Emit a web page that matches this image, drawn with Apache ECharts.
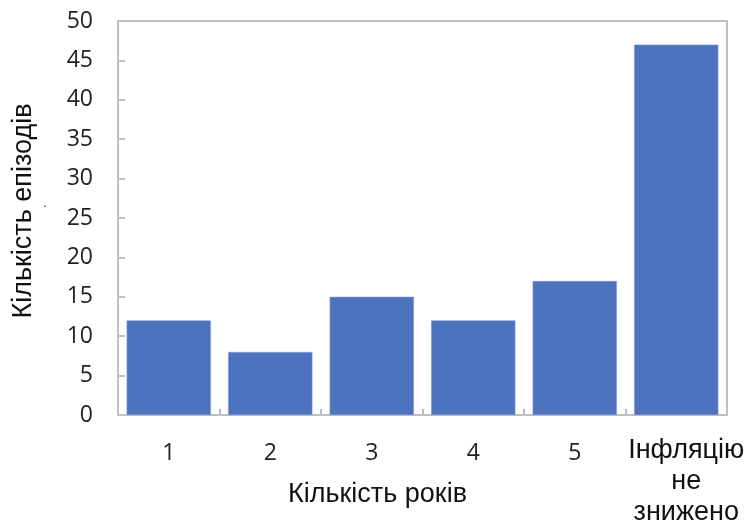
<!DOCTYPE html>
<html>
<head>
<meta charset="utf-8">
<script src="https://cdn.jsdelivr.net/npm/echarts@6/dist/echarts.min.js"></script>
<style>
  html, body { margin: 0; padding: 0; background: #fff; }
  #chart { width: 749px; height: 522px; }
</style>
</head>
<body>
<div id="chart"></div>
<script>
// Categories: number of years needed to bring inflation down
const categories = ['1', '2', '3', '4', '5', 'Інфляцію\nне\nзнижено'];
// Number of episodes per category
const episodes = [12, 8, 15, 12, 17, 47];
// Y axis range
const yMin = 0, yMax = 50, yStep = 5;

const xTitle = 'Кількість років';
const yTitle = 'Кількість епізодів';

const axisGray = '#bfbfbf';
const barBlue = '#4d72be';
const sansFont = 'Liberation Sans, Arial, sans-serif';

const chart = echarts.init(document.getElementById('chart'));

const catData = categories.map((c, i) => {
  if (i === categories.length - 1) {
    return {
      value: c,
      textStyle: {
        fontFamily: sansFont,
        fontSize: 27,
        lineHeight: 31,
        color: '#111',
        padding: [0, 0, 0, 20]
      }
    };
  }
  return c;
});

chart.setOption({
  animation: false,
  grid: {
    left: 118, right: 22, top: 21, bottom: 107,
    show: true, borderColor: axisGray, borderWidth: 2,
    containLabel: false,
    outerBoundsMode: 'none'
  },
  xAxis: {
    type: 'category',
    data: catData,
    axisLine: { show: true, lineStyle: { color: axisGray, width: 2 } },
    axisTick: { show: true, inside: true, length: 6, alignWithLabel: false,
      lineStyle: { color: axisGray, width: 2 } },
    axisLabel: {
      margin: 20,
      fontFamily: 'Open Sans, sans-serif',
      fontSize: 23,
      lineHeight: 37,
      color: '#222',
      interval: 0
    },
    splitLine: { show: false }
  },
  yAxis: {
    type: 'value',
    min: yMin, max: yMax, interval: yStep,
    axisLine: { show: true, lineStyle: { color: axisGray, width: 2 } },
    axisTick: { show: true, inside: true, length: 7,
      lineStyle: { color: axisGray, width: 2 } },
    axisLabel: {
      margin: 25,
      fontFamily: 'Open Sans, sans-serif',
      fontSize: 23,
      color: '#222'
    },
    splitLine: { show: false }
  },
  series: [{
    type: 'bar',
    data: episodes,
    barCategoryGap: '17%',
    itemStyle: { color: barBlue, borderColor: '#7c98d2', borderWidth: 0.6 }
  }],
  graphic: [
    {
      type: 'text', left: 288, top: 481,
      style: { text: xTitle, fontFamily: sansFont, fontSize: 27, fill: '#111' }
    },
    {
      type: 'text', x: 24, y: 211, rotation: Math.PI / 2,
      style: { text: yTitle, fontFamily: sansFont, fontSize: 27, fill: '#111',
        align: 'center', verticalAlign: 'middle' }
    },
    {
      type: 'text', x: 45, y: 203,
      style: { text: '.', fontFamily: sansFont, fontSize: 14, fill: '#444',
        align: 'center', verticalAlign: 'middle' }
    }
  ]
});
</script>
</body>
</html>
